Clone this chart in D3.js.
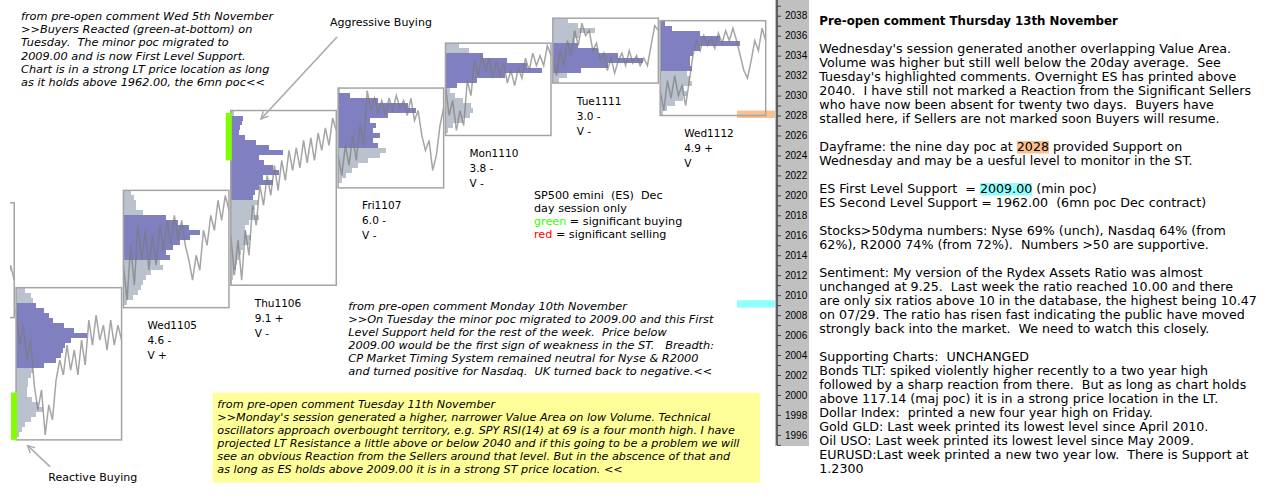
<!DOCTYPE html>
<html><head><meta charset="utf-8">
<script src="https://cdn.jsdelivr.net/npm/d3@7"></script>
<style>
html,body{margin:0;padding:0;background:#fff;}
svg{display:block;}
text{white-space:pre;}
</style></head><body>
<svg id="chart" width="1277" height="502"></svg>
<script>
// ---------------- DATA ----------------
const dayNames = ["Mon1103","Tue1104","Wed1105","Thu1106","Fri1107","Mon1110","Tue1111","Wed1112"];
const dayHigh  = [2019.25, 2010.75, 2020.5, 2028.5, 2030.75, 2035.25, 2037.75, 2037.5];
const dayLow   = [2007.75, 1995.5, 2008.75, 2011.0, 2020.75, 2026.0, 2031.25, 2028.0];
const vaHigh   = [null, 2009.25, 2018.0, 2028.0, 2030.25, 2034.25, 2035.25, 2037.5];
const vaLow    = [null, 2002.75, 2013.5, 2019.5, 2024.75, 2030.75, 2032.25, 2032.5];
const rangeLabels = ["", "", "4.6 -", "9.1 +", "6.0 -", "3.8 -", "3.0 -", "4.9 +"];
const volLabels   = ["", "", "V +", "V -", "V -", "V -", "V -", "V"];

// relative volume per 0.5-point bin, from the day's high downward
const profMon1103 = [];
const profTue1104 = [9,15,17,20,28,33,37,48,58,71,55,49,47,45,40,28,17,15,12,12,11,11,16,22,27,20,15,9,6,3];
const profWed1105 = [8,11,13,13,20,43,55,66,77,67,57,50,43,47,37,40,28,23,20,18,15,10,4];
const profThu1106 = [3,12,11,9,8,14,25,38,52,28,33,42,48,32,42,28,24,22,27,24,22,28,18,14,15,20,18,12,10,8,6,5,3,2,1];
const profFri1107 = [2,12,40,70,78,50,32,38,35,42,35,40,48,42,30,20,14,8,4];
const profMon1110 = [14,24,38,62,82,97,60,32,12,5,10,18,26,28,25,18,8,3];
const profTue1111 = [15,25,42,26,22,25,45,65,90,55,28,14,6];
const profWed1112 = [5,12,40,60,80,40,33,30,30,32,27,30,32,24,27,23,15,7,3];

// price through the session (equal time steps, aligned to session close)
const pathMon1103 = [2011.0, 2013.0, 2011.5];
const pathTue1104 = [2008.5,2005.0,2007.0,2003.5,2005.5,2001.0,1998.5,2000.5,1996.0,1999.0,1997.5,2001.5,2003.5,2002.0,2005.0,2002.5,2004.5,2002.0,2005.5,2003.0,2007.5,2005.0,2008.0,2005.5,2007.0,2004.5,2007.5,2005.0,2007.0,2005.5];
const pathWed1105 = [2013.0,2009.5,2015.0,2011.0,2017.0,2013.5,2016.5,2012.5,2016.0,2013.0,2017.0,2014.5,2017.5,2015.0,2018.0,2015.5,2017.5,2015.0,2013.5,2011.5,2014.0,2012.5,2016.5,2015.0,2018.0,2016.5,2019.5,2017.5,2020.0,2018.5];
const pathThu1106 = [2016.0,2012.0,2015.5,2011.5,2016.5,2014.0,2019.0,2017.0,2021.0,2019.0,2022.0,2020.0,2023.0,2020.5,2023.5,2021.5,2024.5,2022.5,2024.75,2022.75,2025.5,2023.25,2025.75,2023.5,2026.25,2024.5,2026.75,2025.0,2027.75,2026.5];
const pathFri1107 = [2024.0,2022.0,2025.0,2023.0,2026.0,2023.5,2027.0,2025.0,2030.5,2028.5,2029.75,2028.25,2029.5,2028.0,2029.75,2028.5,2030.0,2028.75,2029.5,2028.0,2029.75,2027.5,2028.5,2026.0,2024.5,2025.5,2022.5,2024.0,2027.0,2028.75];
const pathMon1110 = [2031.0,2028.0,2029.5,2026.5,2028.5,2027.0,2031.5,2030.0,2033.5,2032.0,2034.0,2032.5,2033.75,2031.75,2033.5,2032.0,2033.25,2031.25,2032.5,2031.0,2032.75,2031.75,2033.75,2032.5,2034.25,2033.0,2034.0,2033.0,2035.0,2034.0];
const pathTue1111 = [2033.5,2032.0,2034.5,2033.0,2035.5,2034.0,2036.5,2035.0,2037.25,2036.0,2036.5,2034.5,2035.25,2033.5,2034.25,2032.5,2033.75,2032.25,2033.5,2034.25,2033.0,2034.5,2033.25,2034.0,2033.0,2033.75,2033.0,2035.0,2037.0,2036.5];
const pathWed1112 = [2030.5,2028.5,2031.5,2029.75,2032.0,2030.0,2031.0,2029.0,2031.5,2034.0,2035.5,2034.5,2036.0,2035.0,2035.75,2034.75,2036.25,2035.25,2036.5,2035.5,2036.75,2035.5,2034.0,2032.5,2031.75,2033.5,2035.5,2034.5,2036.75,2035.5];

const signalDays = ["Tue1104", "Thu1106"];
const signalFrom = [1995.5, 2023.5];
const signalTo   = [2000.25, 2028.25];
const signalKind = ["buying", "buying"];

const keyLevels    = [2028, 2009];
const keyLevelKind = ["dayframe", "support"];

const yTickLabels = [2038,2036,2034,2032,2030,2028,2026,2024,2022,2020,2018,2016,2014,2012,2010,2008,2006,2004,2002,2000,1998,1996];

const notesWed5 = [
 "from pre-open comment Wed 5th November",
 ">>Buyers Reacted (green-at-bottom) on",
 "Tuesday.  The minor poc migrated to",
 "2009.00 and is now First Level Support.",
 "Chart is in a strong LT price location as long",
 "as it holds above 1962.00, the 6mn poc<<"];
const notesMon10 = [
 "from pre-open comment Monday 10th November",
 ">>On Tuesday the minor poc migrated to 2009.00 and this First",
 "Level Support held for the rest of the week.  Price below",
 "2009.00 would be the first sign of weakness in the ST.   Breadth:",
 "CP Market Timing System remained neutral for Nyse & R2000",
 "and turned positive for Nasdaq.  UK turned back to negative.<<"];
const notesTue11 = [
 "from pre-open comment Tuesday 11th November",
 ">>Monday's session generated a higher, narrower Value Area on low Volume. Technical",
 "oscillators approach overbought territory, e.g. SPY RSI(14) at 69 is a four month high. I have",
 "projected LT Resistance a little above or below 2040 and if this going to be a problem we will",
 "see an obvious Reaction from the Sellers around that level. But in the abscence of that and",
 "as long as ES holds above 2009.00 it is in a strong ST price location. <<"];
const legendLines = ["SP500 emini  (ES)  Dec", "day session only", "{g}green{/} = significant buying", "{r}red{/} = significant selling"];
const commentTitle = "Pre-open comment Thursday 13th November";
const commentLines = [
 "",
 "Wednesday's session generated another overlapping Value Area.",
 "Volume was higher but still well below the 20day average.  See",
 "Tuesday's highlighted comments. Overnight ES has printed above",
 "2040.  I have still not marked a Reaction from the Significant Sellers",
 "who have now been absent for twenty two days.  Buyers have",
 "stalled here, if Sellers are not marked soon Buyers will resume.",
 "",
 "Dayframe: the nine day poc at {o}2028{/} provided Support on",
 "Wednesday and may be a uesful level to monitor in the ST.",
 "",
 "ES First Level Support  = {c}2009.00{/} (min poc)",
 "ES Second Level Support = 1962.00  (6mn poc Dec contract)",
 "",
 "Stocks>50dyma numbers: Nyse 69% (unch), Nasdaq 64% (from",
 "62%), R2000 74% (from 72%).  Numbers >50 are supportive.",
 "",
 "Sentiment: My version of the Rydex Assets Ratio was almost",
 "unchanged at 9.25.  Last week the ratio reached 10.00 and there",
 "are only six ratios above 10 in the database, the highest being 10.47",
 "on 07/29. The ratio has risen fast indicating the public have moved",
 "strongly back into the market.  We need to watch this closely.",
 "",
 "Supporting Charts:  UNCHANGED",
 "Bonds TLT: spiked violently higher recently to a two year high",
 "followed by a sharp reaction from there.  But as long as chart holds",
 "above 117.14 (maj poc) it is in a strong price location in the LT.",
 "Dollar Index:  printed a new four year high on Friday.",
 "Gold GLD: Last week printed its lowest level since April 2010.",
 "Oil USO: Last week printed its lowest level since May 2009.",
 "EURUSD:Last week printed a new two year low.  There is Support at",
 "1.2300"];

// ---------------- LAYOUT ----------------
const profiles = [profMon1103, profTue1104, profWed1105, profThu1106, profFri1107, profMon1110, profTue1111, profWed1112];
const paths = [pathMon1103, pathTue1104, pathWed1105, pathThu1106, pathFri1107, pathMon1110, pathTue1111, pathWed1112];
const BIN = 0.5, STEPS = 30;
const C = {va:"#8080c0", out:"#bac2cd", line:"#7a7a7a", box:"#a4a4a4", buy:"#80ff00", sell:"#ff0000",
           dayframe:"#fac08f", support:"#90ffff", axisBg:"#c0c0c0", note:"#ffff99"};
const FONT = "'DejaVu Sans', Verdana, sans-serif";

const svg = d3.select("#chart");
const y = d3.scaleLinear().domain([2038, 1996]).range([15.7, 434.9]);
const xDay = d3.scaleBand().domain(dayNames).range([-91.3, 765.7]).paddingInner(0.017).paddingOuter(0);
const xVol = d3.scaleLinear().domain([0, 100]).range([0, 100]);
const bw = xDay.bandwidth();

svg.append("defs").append("clipPath").attr("id","clipChart")
  .append("rect").attr("x",10).attr("y",0).attr("width",765).attr("height",502);
const defs = svg.select("defs");
defs.append("marker").attr("id","arr").attr("viewBox","0 0 10 10").attr("refX",9).attr("refY",5)
  .attr("markerWidth",9).attr("markerHeight",9).attr("orient","auto-start-reverse").attr("markerUnits","userSpaceOnUse")
  .append("path").attr("d","M1,1 L9,5 L1,9").attr("fill","none").attr("stroke","#aaaaaa").attr("stroke-width",1.6);

// note background (yellow)
svg.append("rect").attr("x",212.7).attr("y",392.7).attr("width",547.3).attr("height",90).attr("fill",C.note);

// key level marks
keyLevels.forEach((lv,i)=>{
  svg.append("rect").attr("x",737).attr("y",y(lv+0.5)).attr("width",39).attr("height",y(lv-0.25)-y(lv+0.5))
    .attr("fill",C[keyLevelKind[i]]);
});

const chart = svg.append("g").attr("clip-path","url(#clipChart)");
dayNames.forEach((d,i)=>{
  const x0 = xDay(d);
  const g = chart.append("g");
  const hi = dayHigh[i];
  g.selectAll("rect.bin").data(profiles[i]).join("rect").attr("class","bin")
    .attr("x",x0).attr("y",(v,k)=>y(hi-k*BIN)).attr("width",v=>xVol(v))
    .attr("height",(v,k)=>y(hi-(k+1)*BIN)-y(hi-k*BIN))
    .attr("shape-rendering","crispEdges")
    .attr("fill",(v,k)=>{const top=hi-k*BIN, bot=top-BIN;
       return (vaHigh[i]!=null && top<=vaHigh[i]+1e-9 && bot>=vaLow[i]-1e-9)?C.va:C.out;});
  const p = paths[i], n = p.length, step = bw/(STEPS-1);
  const line = d3.line().x((v,k)=>x0+bw-(n-1-k)*step).y(v=>y(v));
  g.append("path").attr("d",line(p)).attr("fill","none").attr("stroke",C.line)
    .attr("stroke-opacity",0.68).attr("stroke-width",1.5).attr("stroke-linejoin","miter");
  g.append("rect").attr("x",x0).attr("y",y(dayHigh[i])).attr("width",bw)
    .attr("height",y(dayLow[i])-y(dayHigh[i])).attr("fill","none").attr("stroke",C.box).attr("stroke-width",1.5);
  if (rangeLabels[i]) {
    const t = svg.append("text").attr("font-family",FONT).attr("font-size",10.5).attr("fill","#000");
    [d, rangeLabels[i], volLabels[i]].forEach((s,k)=>{
      t.append("tspan").attr("x",x0+24).attr("y",y(dayLow[i])+21.5+k*15).text(s);
    });
  }
});

// significant activity bars
signalDays.forEach((d,i)=>{
  svg.append("rect").attr("x",xDay(d)-5).attr("y",y(signalTo[i])).attr("width",6)
    .attr("height",y(signalFrom[i])-y(signalTo[i])).attr("fill",signalKind[i]==="buying"?C.buy:C.sell);
});

// price axis panel
svg.append("rect").attr("x",775).attr("y",0).attr("width",34).attr("height",446).attr("fill",C.axisBg);
const allTicks = d3.range(1995, 2040);
const axis = d3.axisRight(y).tickValues(allTicks).tickSize(4).tickPadding(4)
  .tickFormat(v=>yTickLabels.includes(v)?String(v):"");
const ag = svg.append("g").attr("transform","translate(777,0)").call(axis);
ag.select(".domain").remove();
ag.selectAll(".tick line").attr("stroke","#404040");
ag.selectAll(".tick text").attr("font-family","'Liberation Sans', Arial, sans-serif").attr("font-size",10).attr("fill","#000");
svg.append("line").attr("x1",777).attr("x2",777).attr("y1",0).attr("y2",y(1995)).attr("stroke","#404040").attr("stroke-width",1.5);

// annotations
function block(lines, x, y0, dy, opts){
  const g = svg.append("g");
  lines.forEach((s,k)=>{
    const t = g.append("text").attr("x",x).attr("y",y0+k*dy).attr("font-family",FONT)
      .attr("font-size",opts.size).attr("font-style",opts.italic?"italic":"normal").attr("fill","#000");
    const parts = s.split(/(\{[a-z]\}.*?\{\/\})/);
    parts.forEach(pt=>{
      const m = pt.match(/^\{([a-z])\}(.*)\{\/\}$/);
      if (m) {
        const ts = t.append("tspan").text(m[2]);
        if (m[1]==="g") ts.attr("fill","#33ff00");
        else if (m[1]==="r") ts.attr("fill","#ff0000");
        else ts.attr("data-hl", m[1]);
      } else if (pt) t.append("tspan").text(pt);
    });
  });
  return g;
}
block(notesWed5, 21, 20.2, 13.1, {size:11.3, italic:true});
block(notesMon10, 348.3, 310.2, 13, {size:11.3, italic:true});
block(notesTue11, 217.3, 407.6, 13, {size:11.2, italic:true});
block(legendLines, 534, 199.2, 13, {size:11.2, italic:false});

svg.append("text").attr("x",330).attr("y",26.3).attr("font-family",FONT).attr("font-size",11).text("Aggressive Buying");
svg.append("text").attr("x",48.3).attr("y",480.7).attr("font-family",FONT).attr("font-size",11).text("Reactive Buying");
svg.append("line").attr("x1",337).attr("y1",37).attr("x2",261).attr("y2",119).attr("stroke","#aaaaaa").attr("stroke-width",1.6).attr("marker-end","url(#arr)");
svg.append("line").attr("x1",50).attr("y1",466.7).attr("x2",27.5).attr("y2",445.5).attr("stroke","#aaaaaa").attr("stroke-width",1.6).attr("marker-end","url(#arr)");

// right comment panel
const hlLayer = svg.append("g");
svg.append("text").attr("x",819.3).attr("y",25).attr("font-family",FONT).attr("font-size",11.8).attr("font-weight","bold").text(commentTitle);
const cg = block(commentLines, 819.3, 39.3, 14, {size:12.65, italic:false});
cg.selectAll("text").each(function(){
  const t = this; let idx = 0;
  d3.select(t).selectAll("tspan").each(function(){
    const s = this.textContent; const hl = this.getAttribute("data-hl");
    if (hl) {
      const x0 = t.getStartPositionOfChar(idx).x;
      const x1 = t.getEndPositionOfChar(idx+s.length-1).x;
      const yy = +t.getAttribute("y");
      hlLayer.append("rect").attr("x",x0).attr("y",yy-10.3).attr("width",x1-x0).attr("height",12.5)
        .attr("fill",C[hl==="o"?"dayframe":"support"]);
    }
    idx += s.length;
  });
});
</script>
</body></html>
